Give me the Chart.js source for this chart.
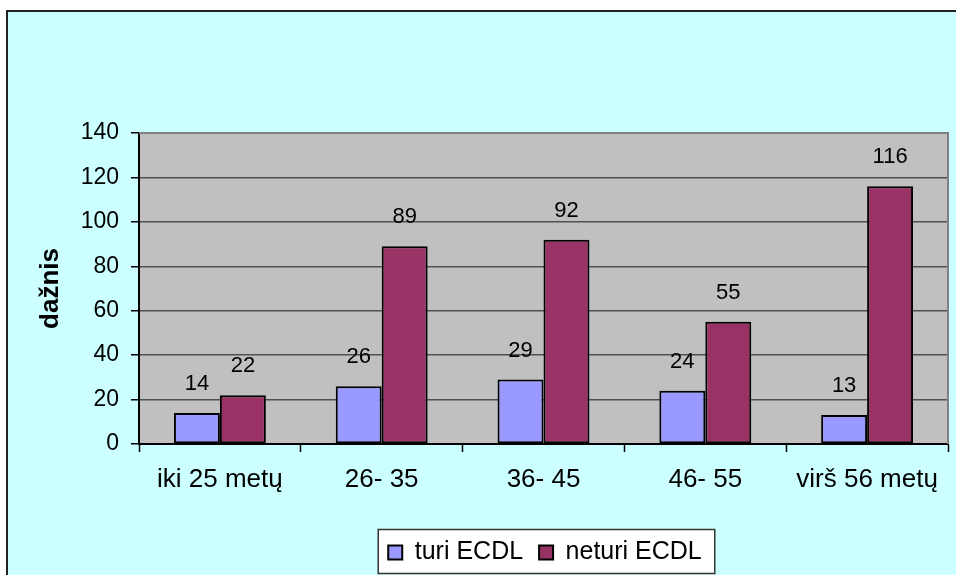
<!DOCTYPE html>
<html>
<head>
<meta charset="utf-8">
<script src="https://cdn.jsdelivr.net/npm/chart.js@4.4.1/dist/chart.umd.min.js"></script>
<style>
  html, body { margin: 0; padding: 0; background: #ffffff; }
  #c { display: block; }
</style>
</head>
<body>
<canvas id="c" width="956" height="575"></canvas>
<script>
// Age groups and counts of respondents with / without ECDL
const categories = ['iki 25 metų', '26- 35', '36- 45', '46- 55', 'virš 56 metų'];
const turiECDL = [14, 26, 29, 24, 13];
const neturiECDL = [22, 89, 92, 55, 116];
const yTickValues = [0, 20, 40, 60, 80, 100, 120, 140];
const seriesNames = ['turi ECDL', 'neturi ECDL'];
const axisTitle = 'dažnis';

const FONT = 'Arial, "Liberation Sans", sans-serif';
Chart.defaults.font.family = FONT;
Chart.defaults.color = '#000000';

// Page frame, plot background, plot border and legend box
const framePlugin = {
  id: 'frame',
  beforeDraw(chart) {
    const { ctx, chartArea: a, width, height } = chart;
    ctx.save();
    ctx.fillStyle = '#ffffff';
    ctx.fillRect(0, 0, width, height);
    ctx.fillStyle = '#ccffff';
    ctx.fillRect(7, 11, width - 7, height - 11);
    ctx.strokeStyle = '#222222';
    ctx.lineWidth = 2;
    ctx.beginPath();
    ctx.moveTo(7, height);
    ctx.lineTo(7, 11);
    ctx.lineTo(width, 11);
    ctx.stroke();
    ctx.fillStyle = '#c0c0c0';
    ctx.fillRect(a.left, a.top, a.right - a.left, a.bottom - a.top);

    const lg = chart.legend;
    if (lg && lg.legendHitBoxes && lg.legendHitBoxes.length) {
      const hb = lg.legendHitBoxes;
      const first = hb[0], last = hb[hb.length - 1];
      const cy = first.top + first.height / 2;
      const x0 = first.left - 10, x1 = last.left + last.width + 13;
      const y0 = cy - 23, y1 = cy + 21;
      ctx.fillStyle = '#ffffff';
      ctx.fillRect(x0, y0, x1 - x0, y1 - y0);
      ctx.strokeStyle = '#333333';
      ctx.lineWidth = 1.5;
      ctx.strokeRect(x0, y0, x1 - x0, y1 - y0);
    }
    ctx.restore();
  },
  afterLayout(chart) {
    // center the legend under the plot area
    const lg = chart.legend;
    if (!lg) return;
    const dx = 545 - (lg.left + lg.right) / 2;
    lg.left += dx;
    lg.right += dx;
  },
  beforeDatasetsDraw(chart) {
    const { ctx, chartArea: a } = chart;
    ctx.save();
    ctx.strokeStyle = '#808080';
    ctx.lineWidth = 2;
    ctx.beginPath();
    ctx.moveTo(a.left, a.top);
    ctx.lineTo(a.right, a.top);
    ctx.lineTo(a.right, a.bottom);
    ctx.stroke();
    ctx.restore();
  }
};

// Value labels above each bar
const valueLabels = {
  id: 'valueLabels',
  afterDatasetsDraw(chart) {
    const { ctx } = chart;
    ctx.save();
    ctx.fillStyle = '#000000';
    ctx.font = '22px ' + FONT;
    ctx.textAlign = 'center';
    ctx.textBaseline = 'middle';
    chart.data.datasets.forEach((ds, i) => {
      const meta = chart.getDatasetMeta(i);
      meta.data.forEach((bar, j) => {
        ctx.fillText(String(ds.data[j]), bar.x, bar.y - 29);
      });
    });
    ctx.restore();
  }
};

new Chart(document.getElementById('c'), {
  type: 'bar',
  data: {
    labels: categories,
    datasets: [
      {
        label: seriesNames[0],
        data: turiECDL,
        backgroundColor: '#9999ff',
        borderColor: '#000000',
        borderWidth: 2,
        borderSkipped: false
      },
      {
        label: seriesNames[1],
        data: neturiECDL,
        backgroundColor: '#993366',
        borderColor: '#000000',
        borderWidth: 2,
        borderSkipped: false
      }
    ]
  },
  options: {
    responsive: false,
    devicePixelRatio: 1,
    animation: false,
    events: [],
    datasets: {
      bar: { categoryPercentage: 0.568, barPercentage: 1.0 }
    },
    layout: { padding: { left: 7, top: 133, right: 8, bottom: 0 } },
    scales: {
      x: {
        offset: true,
        grid: {
          offset: true,
          drawOnChartArea: false,
          drawTicks: true,
          tickLength: 8,
          tickColor: '#000000',
          tickWidth: 1.5
        },
        border: { display: true, color: '#000000', width: 2 },
        ticks: {
          font: { size: 26 },
          color: '#000000',
          padding: 12,
          maxRotation: 0,
          autoSkip: false
        },
        afterFit(scale) { scale.height = 80; }
      },
      y: {
        min: 0,
        max: 140,
        afterBuildTicks(scale) {
          scale.ticks = yTickValues.map(v => ({ value: v }));
        },
        grid: {
          color: '#505050',
          lineWidth: 1.5,
          drawTicks: true,
          tickLength: 8,
          tickColor: '#000000',
          tickWidth: 1.5
        },
        border: { display: true, color: '#000000', width: 2 },
        ticks: {
          font: { size: 23 },
          color: '#000000',
          padding: 12
        },
        title: {
          display: true,
          text: axisTitle,
          font: { size: 26, weight: 'bold' },
          color: '#000000',
          padding: { top: 28, bottom: 0 }
        },
        afterFit(scale) { scale.width = 132; }
      }
    },
    plugins: {
      legend: {
        display: true,
        position: 'bottom',
        labels: {
          boxWidth: 14,
          boxHeight: 14,
          padding: 16,
          font: { size: 25 },
          color: '#000000'
        }
      },
      tooltip: { enabled: false },
      title: { display: false }
    }
  },
  plugins: [framePlugin, valueLabels]
});
</script>
</body>
</html>
